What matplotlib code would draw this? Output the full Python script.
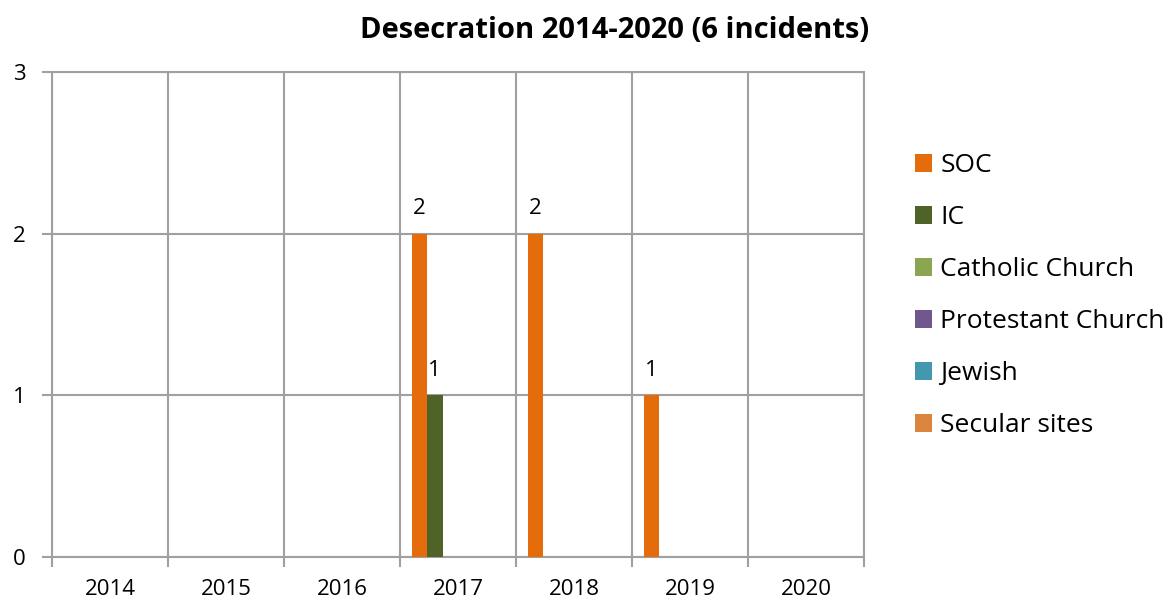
import matplotlib.pyplot as plt
import numpy as np

years = ["2014", "2015", "2016", "2017", "2018", "2019", "2020"]
series = ["SOC", "IC", "Catholic Church", "Protestant Church", "Jewish", "Secular sites"]
colors = ["#E46C0A", "#4F6228", "#8BA650", "#70588F", "#4397AF", "#DB843D"]
values = [
    [0, 0, 0, 2, 2, 1, 0],
    [0, 0, 0, 1, 0, 0, 0],
    [0, 0, 0, 0, 0, 0, 0],
    [0, 0, 0, 0, 0, 0, 0],
    [0, 0, 0, 0, 0, 0, 0],
    [0, 0, 0, 0, 0, 0, 0],
]

plt.rcParams['font.family'] = ['Open Sans', 'DejaVu Sans']

fig = plt.figure(figsize=(11.68, 6.01), dpi=100)
ax = fig.add_axes([52 / 1168, 1 - 557 / 601, 812 / 1168, 485 / 601])

x = np.arange(len(years))
w = 0.8 / len(series)
for i, (name, vals, c) in enumerate(zip(series, values, colors)):
    pos = x - 0.4 + w * (i + 0.5)
    ax.bar(pos, vals, width=w, color=c, label=name, zorder=3)
    for p, v in zip(pos, vals):
        if v > 0:
            ax.text(p, v + 0.09, str(v), ha='center', va='bottom', fontsize=16)

ax.set_xlim(-0.5, len(years) - 0.5)
ax.set_ylim(0, 3)
ax.set_yticks([0, 1, 2, 3])
ax.set_xticks(x)
ax.set_xticklabels(years)
ax.set_xticks(np.arange(-0.5, len(years)), minor=True)
ax.grid(True, axis='y', color='#A0A0A0', lw=1.5, zorder=0)
ax.grid(True, axis='x', which='minor', color='#A0A0A0', lw=1.5, zorder=0)
ax.tick_params(axis='x', which='major', length=0, labelsize=16, pad=16)
ax.tick_params(axis='x', which='minor', length=7, width=1.5, color='#A0A0A0')
ax.tick_params(axis='y', length=7, width=1.5, color='#A0A0A0', labelsize=16, pad=12)
for s in ax.spines.values():
    s.set_color('#A0A0A0')
    s.set_linewidth(1.5)

fig.text(615 / 1168, 1 - 30 / 601, "Desecration 2014-2020 (6 incidents)",
         fontsize=21, fontweight='bold', ha='center', va='center')

ax.legend(loc='upper left', bbox_to_anchor=((915 - 52) / 812, 0.832), frameon=False,
          fontsize=19, handlelength=0.66, handleheight=0.66, handletextpad=0.3,
          labelspacing=1.02, borderaxespad=0, borderpad=0)

fig.savefig("out.png")
